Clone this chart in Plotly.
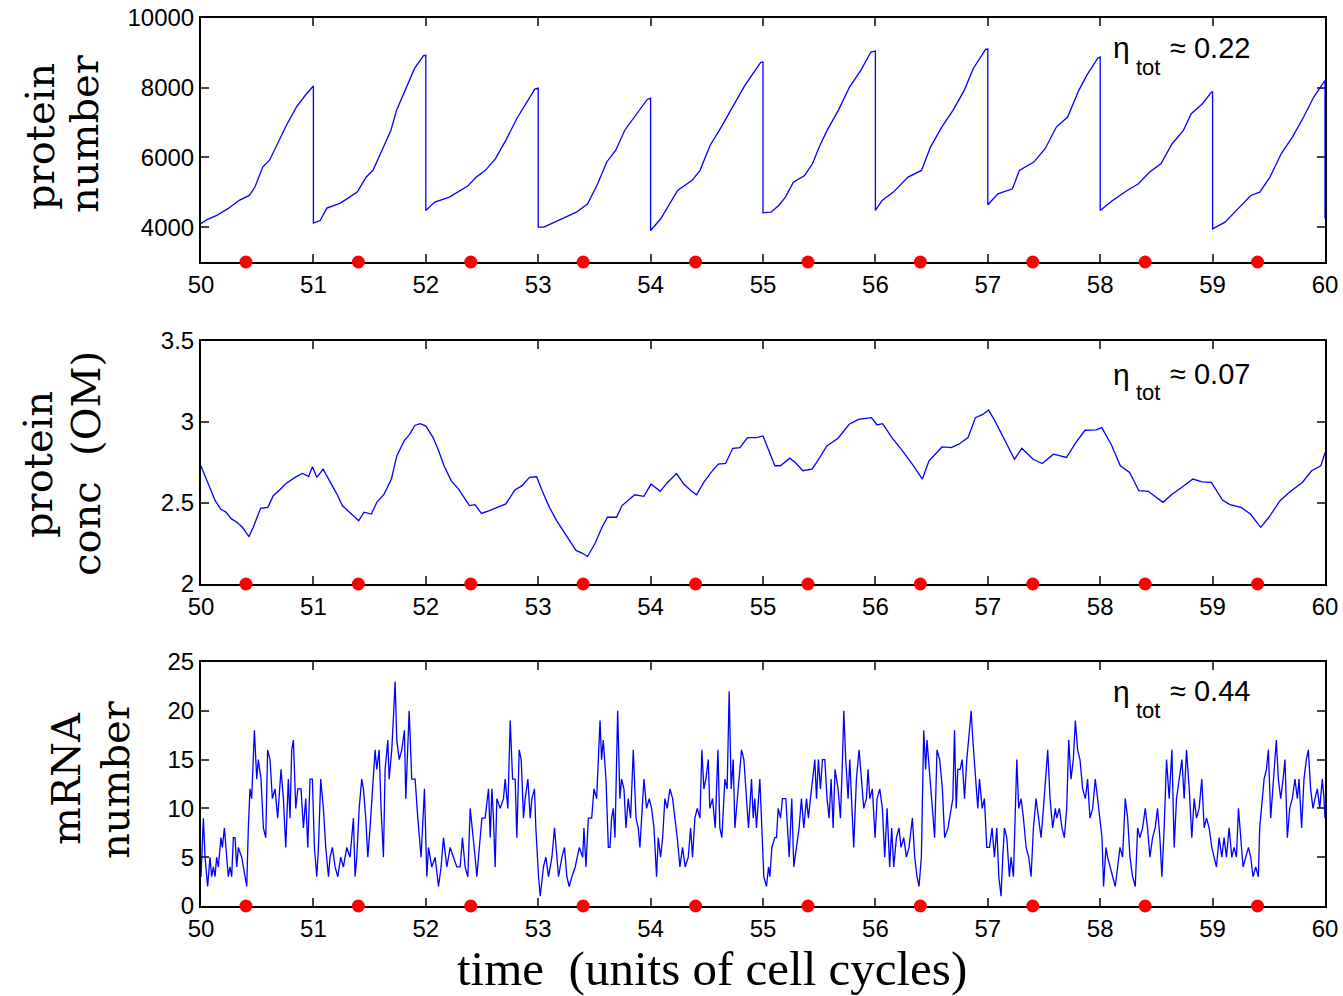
import plotly.graph_objects as go

# ---------------- data ----------------
ticks_x = [50, 51, 52, 53, 54, 55, 56, 57, 58, 59, 60]
dot_t = [50.4, 51.4, 52.4, 53.4, 54.4, 55.4, 56.4, 57.4, 58.4, 59.4]

prot_ticks = [4000, 6000, 8000, 10000]
conc_ticks = [2, 2.5, 3, 3.5]
mrna_ticks = [0, 5, 10, 15, 20, 25]

prot_t = [50.00, 50.05, 50.14, 50.24, 50.34, 50.43, 50.48, 50.55, 50.61, 50.69, 50.76, 50.85, 50.93, 51.00,
          51.00, 51.06, 51.12, 51.24, 51.39, 51.47, 51.53, 51.61, 51.69, 51.74, 51.82, 51.90, 51.98, 52.00,
          52.00, 52.08, 52.21, 52.37, 52.45, 52.53, 52.62, 52.72, 52.81, 52.91, 52.97, 53.00,
          53.00, 53.05, 53.18, 53.34, 53.44, 53.53, 53.61, 53.69, 53.77, 53.86, 53.97, 54.00,
          54.00, 54.09, 54.15, 54.24, 54.37, 54.44, 54.53, 54.63, 54.73, 54.84, 54.98, 55.00,
          55.00, 55.07, 55.14, 55.20, 55.27, 55.37, 55.44, 55.50, 55.57, 55.67, 55.77, 55.87, 55.96, 56.00,
          56.00, 56.06, 56.16, 56.29, 56.41, 56.49, 56.59, 56.69, 56.79, 56.87, 56.98, 57.00,
          57.00, 57.09, 57.22, 57.28, 57.41, 57.51, 57.61, 57.71, 57.81, 57.88, 57.98, 58.00,
          58.00, 58.11, 58.24, 58.34, 58.44, 58.54, 58.64, 58.74, 58.81, 58.91, 58.99, 59.00,
          59.00, 59.11, 59.24, 59.34, 59.42, 59.51, 59.61, 59.71, 59.81, 59.90, 59.99, 60.00, 60.00]
prot_n = [4100, 4210, 4335, 4530, 4770, 4910, 5150, 5730, 5920, 6445, 6925, 7450, 7790, 8050,
          4115, 4190, 4547, 4690, 5007, 5440, 5630, 6205, 6780, 7356, 7930, 8555, 8920, 8930,
          4480, 4720, 4863, 5170, 5440, 5630, 5966, 6540, 7117, 7644, 7960, 7990,
          4000, 4000, 4190, 4430, 4670, 5250, 5870, 6206, 6780, 7184, 7663, 7700,
          3904, 4240, 4575, 5055, 5343, 5630, 6350, 6877, 7452, 8076, 8728, 8740,
          4411, 4430, 4622, 4861, 5292, 5483, 5818, 6297, 6775, 7350, 8020, 8498, 9024, 9053,
          4478, 4766, 5005, 5435, 5627, 6297, 6871, 7350, 7924, 8546, 9101, 9110,
          4641, 4957, 5100, 5627, 5866, 6249, 6871, 7158, 7924, 8354, 8852, 8880,
          4478, 4766, 5053, 5244, 5579, 5818, 6393, 6775, 7254, 7541, 7876, 7880,
          3952, 4144, 4574, 4909, 5005, 5435, 6105, 6584, 7158, 7732, 8163, 8200, 4240]

conc_t = [50.000, 50.029, 50.078, 50.126, 50.175, 50.223, 50.271, 50.320, 50.368, 50.427,
          50.465, 50.530, 50.595, 50.643, 50.708, 50.756, 50.837, 50.902, 50.957, 50.992,
          51.031, 51.086, 51.144, 51.209, 51.257, 51.322, 51.403, 51.451, 51.516, 51.564,
          51.629, 51.694, 51.742, 51.807, 51.855, 51.904, 51.952, 52.001, 52.065, 52.114,
          52.162, 52.227, 52.292, 52.340, 52.388, 52.437, 52.495, 52.566, 52.631, 52.712,
          52.792, 52.857, 52.922, 52.986, 53.035, 53.100, 53.164, 53.229, 53.277, 53.336,
          53.390, 53.439, 53.504, 53.568, 53.617, 53.697, 53.746, 53.794, 53.859, 53.940,
          54.004, 54.085, 54.150, 54.231, 54.295, 54.360, 54.409, 54.473, 54.538, 54.602,
          54.667, 54.731, 54.796, 54.861, 54.942,
          55.000, 55.040, 55.106, 55.155, 55.238, 55.288, 55.354, 55.436, 55.486, 55.568,
          55.668, 55.767, 55.849, 55.965, 56.015, 56.064, 56.147, 56.229, 56.328, 56.418,
          56.477, 56.593, 56.675, 56.742, 56.824, 56.890, 56.956, 57.006, 57.056, 57.155,
          57.237, 57.303, 57.403, 57.485, 57.584, 57.700, 57.783, 57.865, 57.964, 58.014,
          58.097, 58.179, 58.262, 58.344, 58.427, 58.559, 58.642, 58.724, 58.824, 58.906,
          58.989, 59.088, 59.154, 59.253, 59.336, 59.428, 59.501, 59.600, 59.683, 59.798,
          59.881, 59.963, 60.000]
conc_v = [2.729, 2.678, 2.596, 2.514, 2.463, 2.443, 2.402, 2.381, 2.350, 2.293,
          2.350, 2.467, 2.473, 2.545, 2.586, 2.621, 2.658, 2.682, 2.664, 2.723,
          2.658, 2.709, 2.637, 2.555, 2.484, 2.443, 2.391, 2.443, 2.432, 2.504,
          2.555, 2.648, 2.791, 2.883, 2.924, 2.980, 2.990, 2.975, 2.904, 2.822,
          2.730, 2.637, 2.586, 2.535, 2.484, 2.490, 2.436, 2.453, 2.473, 2.494,
          2.580, 2.607, 2.658, 2.662, 2.576, 2.473, 2.391, 2.320, 2.268, 2.207,
          2.191, 2.170, 2.248, 2.350, 2.412, 2.412, 2.484, 2.514, 2.551, 2.541,
          2.617, 2.572, 2.627, 2.682, 2.617, 2.576, 2.551, 2.627, 2.689, 2.740,
          2.744, 2.838, 2.842, 2.904, 2.904,
          2.914, 2.842, 2.730, 2.730, 2.777, 2.750, 2.699, 2.709, 2.760, 2.852,
          2.900, 2.986, 3.016, 3.027, 2.982, 2.990, 2.904, 2.832, 2.740, 2.648,
          2.760, 2.846, 2.842, 2.863, 2.904, 3.027, 3.047, 3.074, 3.016, 2.883,
          2.770, 2.838, 2.770, 2.744, 2.801, 2.781, 2.873, 2.949, 2.951, 2.965,
          2.863, 2.730, 2.689, 2.576, 2.572, 2.504, 2.555, 2.596, 2.648, 2.631,
          2.627, 2.518, 2.490, 2.473, 2.432, 2.350, 2.412, 2.514, 2.566, 2.627,
          2.699, 2.730, 2.811]

mrna_t = [
    50.000, 50.021, 50.036, 50.059, 50.080, 50.095, 50.110, 50.125, 50.139, 50.154,
    50.178, 50.190, 50.208, 50.228, 50.243, 50.258, 50.273, 50.288, 50.303, 50.318,
    50.332, 50.362, 50.392, 50.407, 50.421, 50.436, 50.451, 50.475, 50.496, 50.510,
    50.534, 50.555, 50.576, 50.593, 50.614, 50.635, 50.659, 50.682, 50.712, 50.733,
    50.754, 50.777, 50.792, 50.807, 50.822, 50.843, 50.861, 50.890, 50.911, 50.932,
    50.950, 50.970, 50.991, 51.009, 51.030, 51.045, 51.065, 51.089, 51.110, 51.134,
    51.148, 51.169, 51.193, 51.217, 51.243, 51.267, 51.297, 51.326, 51.356, 51.371,
    51.386, 51.407, 51.430, 51.445, 51.466, 51.484, 51.504, 51.525, 51.549, 51.564,
    51.585, 51.602, 51.623, 51.638, 51.662, 51.674, 51.697, 51.715, 51.727, 51.742,
    51.763, 51.786, 51.810, 51.822, 51.852, 51.875, 51.905, 51.929, 51.958, 51.988,
    52.009, 52.024, 52.053, 52.083, 52.113, 52.136, 52.157, 52.187, 52.217, 52.246,
    52.276, 52.306, 52.326, 52.350, 52.374, 52.395, 52.415, 52.439, 52.454, 52.475,
    52.499, 52.528, 52.558, 52.573, 52.588, 52.602, 52.617, 52.632, 52.662, 52.691,
    52.706, 52.730, 52.751, 52.772, 52.795, 52.810, 52.831, 52.849, 52.869, 52.884,
    52.908, 52.929, 52.944, 52.967, 52.979, 53.003, 53.018, 53.047, 53.068, 53.092,
    53.122, 53.145, 53.166, 53.181, 53.211, 53.234, 53.255, 53.276, 53.300, 53.329,
    53.366, 53.396, 53.407, 53.425, 53.446, 53.476, 53.496, 53.520, 53.550, 53.564,
    53.579, 53.603, 53.624, 53.639, 53.653, 53.668, 53.683, 53.707, 53.727, 53.742,
    53.763, 53.781, 53.801, 53.822, 53.846, 53.870, 53.890, 53.905, 53.920, 53.941,
    53.964, 53.988, 54.009, 54.030, 54.053, 54.068, 54.089, 54.107, 54.127, 54.148,
    54.172, 54.196, 54.216, 54.237, 54.261, 54.284, 54.308, 54.335, 54.356, 54.373,
    54.394, 54.415, 54.439, 54.456, 54.474, 54.492, 54.513, 54.527, 54.551, 54.575,
    54.599, 54.616, 54.634, 54.661, 54.681, 54.699, 54.717, 54.735, 54.750, 54.770,
    54.788, 54.809, 54.830, 54.853, 54.871, 54.898, 54.913, 54.927, 54.942, 54.972,
    54.987, 55.007, 55.031, 55.049, 55.061, 55.079, 55.105, 55.120, 55.135, 55.156,
    55.173, 55.203, 55.233, 55.256, 55.274, 55.298, 55.321, 55.342, 55.363, 55.387,
    55.404, 55.422, 55.440, 55.461, 55.476, 55.493, 55.511, 55.529, 55.550, 55.570,
    55.588, 55.606, 55.624, 55.641, 55.668, 55.689, 55.707, 55.719, 55.736, 55.757,
    55.772, 55.796, 55.807, 55.831, 55.855, 55.876, 55.896, 55.920, 55.935, 55.950,
    55.973, 55.997, 56.015, 56.039, 56.062, 56.083, 56.104, 56.127, 56.145, 56.163,
    56.187, 56.210, 56.228, 56.252, 56.276, 56.299, 56.329, 56.350, 56.370, 56.388,
    56.409, 56.430, 56.447, 56.459, 56.483, 56.507, 56.527, 56.548, 56.572, 56.596,
    56.616, 56.646,
    56.689, 56.704, 56.719, 56.733, 56.754, 56.772, 56.793, 56.813, 56.837, 56.852,
    56.867, 56.890, 56.911, 56.926, 56.950, 56.970, 56.991, 57.015, 57.038, 57.059,
    57.080, 57.098, 57.118, 57.133, 57.148, 57.169, 57.192, 57.207, 57.228, 57.258,
    57.275, 57.296, 57.317, 57.341, 57.364, 57.385, 57.406, 57.429, 57.453, 57.474,
    57.495, 57.512, 57.533, 57.554, 57.577, 57.601, 57.613, 57.637, 57.660, 57.681,
    57.702, 57.720, 57.740, 57.761, 57.779, 57.799, 57.820, 57.844, 57.868, 57.888,
    57.909, 57.933, 57.956, 57.977, 57.998, 58.016, 58.030, 58.051, 58.066, 58.087,
    58.110, 58.134, 58.155, 58.176, 58.199, 58.223, 58.244, 58.265, 58.288, 58.312,
    58.333, 58.353, 58.377, 58.401, 58.421, 58.442, 58.466, 58.489, 58.510, 58.531,
    58.549, 58.569, 58.590, 58.614, 58.638, 58.658, 58.679, 58.703, 58.727, 58.747,
    58.768, 58.792, 58.815, 58.836, 58.857, 58.880, 58.904, 58.925, 58.946, 58.969,
    58.993, 59.013, 59.034, 59.058, 59.082, 59.102, 59.123, 59.147, 59.171, 59.191,
    59.212, 59.230, 59.251, 59.271, 59.295, 59.319, 59.339, 59.360, 59.384, 59.407,
    59.419, 59.437, 59.458, 59.479, 59.496, 59.517, 59.547, 59.567, 59.585, 59.606,
    59.627, 59.644, 59.665, 59.686, 59.709, 59.733, 59.754, 59.769, 59.792, 59.813,
    59.834, 59.852, 59.872, 59.893, 59.911, 59.932, 59.953, 59.976, 59.991, 60.000]
mrna_v = [
    3, 9, 5, 2, 5, 3, 4, 3, 5, 4,
    7, 6, 8, 5, 3, 4, 3, 7, 7, 4,
    6, 5, 3, 2, 8, 12, 11, 18, 13, 15,
    13, 8, 7, 16, 15, 11, 12, 9, 14, 11,
    6, 13, 9, 16, 17, 10, 12, 12, 8, 11,
    6, 13, 13, 6, 3, 6, 13, 10, 6, 3,
    5, 6, 4, 3, 5, 4, 6, 5, 9, 3,
    5, 10, 13, 12, 9, 5, 8, 12, 16, 14,
    16, 10, 5, 14, 17, 13, 16, 20, 23, 17,
    15, 16, 18, 11, 20, 13, 13, 9, 5, 12,
    3, 6, 4, 5, 2, 4, 7, 4, 6, 5,
    4, 4, 7, 4, 3, 10, 8, 5, 3, 6,
    9, 9, 12, 7, 12, 9, 4, 11, 10, 11,
    13, 10, 19, 13, 13, 7, 16, 15, 9, 11,
    13, 9, 11, 12, 8, 3, 1, 4, 5, 3,
    5, 8, 5, 3, 5, 6, 3, 2, 3, 4,
    6, 5, 8, 4, 9, 9, 12, 11, 19, 15,
    17, 13, 6, 6, 9, 10, 7, 20, 11, 13,
    12, 8, 11, 9, 16, 9, 8, 6, 9, 13,
    10, 11, 10, 8, 3, 7, 5, 7, 11, 10,
    12, 11, 9, 7, 4, 6, 4, 5, 8, 5,
    9, 10, 9, 16, 12, 13, 15, 10, 11, 8,
    16, 8, 7, 13, 12, 22, 12, 15, 8, 11,
    13, 16, 15, 11, 8, 13, 9, 11, 8, 13,
    9, 3, 2, 4, 3, 6, 7, 7, 10, 9,
    11, 11, 5, 11, 4, 6, 8, 11, 8, 11,
    9, 11, 13, 15, 11, 15, 12, 15, 15, 11,
    9, 13, 8, 14, 12, 9, 15, 20, 15, 11,
    15, 9, 6, 13, 16, 13, 10, 11, 14, 11,
    12, 7, 11, 12, 10, 5, 10, 4, 8, 4,
    7, 8, 6, 7, 5, 6, 9, 5, 3, 2,
    5, 18, 14, 17, 13, 10, 7, 16, 15, 12,
    7, 8,
    11, 18, 10, 14, 14, 15, 11, 15, 18, 20,
    17, 13, 10, 13, 10, 11, 6, 6, 8, 5,
    8, 3, 1, 5, 8, 7, 3, 5, 3, 15,
    10, 11, 9, 6, 5, 3, 8, 11, 9, 7,
    10, 13, 16, 11, 8, 10, 9, 10, 8, 7,
    10, 17, 13, 15, 19, 16, 15, 12, 11, 13,
    9, 10, 13, 11, 9, 7, 2, 6, 5, 4,
    3, 2, 4, 6, 5, 11, 9, 5, 3, 2,
    8, 7, 8, 10, 8, 5, 7, 8, 10, 7,
    3, 8, 15, 11, 16, 6, 11, 13, 15, 11,
    16, 12, 7, 11, 9, 10, 13, 8, 9, 8,
    6, 5, 4, 7, 5, 7, 5, 8, 5, 6,
    5, 10, 7, 4, 5, 6, 5, 3, 4, 3,
    8, 10, 13, 14, 16, 9, 14, 17, 13, 11,
    13, 15, 7, 10, 11, 13, 11, 13, 8, 13,
    15, 16, 12, 10, 11, 12, 10, 13, 11, 9]

eta_labels = ["0.22", "0.07", "0.44"]

# ---------------- layout helpers (pixel -> paper) ----------------
W, H = 1343, 996
ML, MR, MT, MB = 201, 18, 18, 90
PW, PH = W - ML - MR, H - MT - MB


def fx(px):
    return (px - ML) / PW


def fy(py):
    return (H - MB - py) / PH


BLUE = "#0000FF"
RED = "#FF0000"
TICKFONT = dict(family="Liberation Sans, Arial, sans-serif", size=24, color="black")

fig = go.Figure()

panels = [
    (prot_t, prot_n, "x", "y", 3000),
    (conc_t, conc_v, "x2", "y2", 2),
    (mrna_t, mrna_v, "x3", "y3", 0),
]
for tx, vy, xa, ya, base in panels:
    fig.add_trace(go.Scatter(x=tx, y=vy, mode="lines", xaxis=xa, yaxis=ya,
                             line=dict(color=BLUE, width=1.3), showlegend=False,
                             hoverinfo="skip"))
    fig.add_trace(go.Scatter(x=dot_t, y=[base] * len(dot_t), mode="markers",
                             xaxis=xa, yaxis=ya, cliponaxis=False,
                             marker=dict(color=RED, size=13, line=dict(width=0)),
                             showlegend=False, hoverinfo="skip"))

xcommon = dict(range=[50, 60], tickmode="array", tickvals=ticks_x,
               ticktext=[str(v) for v in ticks_x], ticks="inside", ticklen=8,
               tickwidth=1.5, tickcolor="#444", showline=True, linecolor="black",
               linewidth=2, mirror="ticks", showgrid=False, zeroline=False,
               tickfont=TICKFONT, layer="below traces", automargin=False)
ycommon = dict(ticks="inside", ticklen=8, tickwidth=1.5, tickcolor="#444",
               showline=True, linecolor="black", linewidth=2, mirror="ticks",
               showgrid=False, zeroline=False, tickfont=TICKFONT,
               layer="below traces", automargin=False, tickmode="array")

doms = [(fy(262), fy(18)), (fy(584), fy(341)), (fy(906), fy(662))]

fig.update_layout(
    width=W, height=H, autosize=False,
    margin=dict(l=ML, r=MR, t=MT, b=MB, autoexpand=False),
    paper_bgcolor="white", plot_bgcolor="white",
    xaxis=dict(domain=[0, 1], anchor="y", **xcommon),
    xaxis2=dict(domain=[0, 1], anchor="y2", **xcommon),
    xaxis3=dict(domain=[0, 1], anchor="y3", **xcommon),
    yaxis=dict(domain=list(doms[0]), anchor="x", range=[3000, 10000],
               tickvals=prot_ticks, ticktext=[str(v) for v in prot_ticks], **ycommon),
    yaxis2=dict(domain=list(doms[1]), anchor="x2", range=[2, 3.5],
                tickvals=conc_ticks, ticktext=["%g" % v for v in conc_ticks], **ycommon),
    yaxis3=dict(domain=list(doms[2]), anchor="x3", range=[0, 25],
                tickvals=mrna_ticks, ticktext=[str(v) for v in mrna_ticks], **ycommon),
)

SERIF_Y = dict(family="DejaVu Serif, serif", size=40, color="black")
ylabels = [
    ("protein", 40, 137), ("number", 84, 134),
    ("protein", 38, 465), ("conc\u00a0\u00a0(OM)", 86, 464),
    ("mRNA", 66, 779), ("number", 115, 780),
]
annotations = []
for txt, px, py in ylabels:
    annotations.append(dict(text=txt, x=fx(px), y=fy(py), xref="paper", yref="paper",
                            xanchor="center", yanchor="middle", textangle=-90,
                            showarrow=False, font=SERIF_Y))

annotations.append(dict(text="time\u00a0\u00a0(units of cell cycles)", x=fx(712), y=fy(968),
                        xref="paper", yref="paper", xanchor="center", yanchor="middle",
                        showarrow=False,
                        font=dict(family="Liberation Serif, Times New Roman, serif",
                                  size=49, color="black")))

SANS = "Liberation Sans, Arial, sans-serif"
for lab, py in zip(eta_labels, [48, 374, 691]):
    annotations.append(dict(text="\u03b7", x=fx(1111), y=fy(py),
                            xref="paper", yref="paper", xanchor="left", yanchor="middle",
                            showarrow=False, font=dict(family=SANS, size=30, color="black")))
    annotations.append(dict(text="tot", x=fx(1134), y=fy(py + 19),
                            xref="paper", yref="paper", xanchor="left", yanchor="middle",
                            showarrow=False, font=dict(family=SANS, size=22, color="black")))
    annotations.append(dict(text="\u2248 " + lab, x=fx(1168), y=fy(py),
                            xref="paper", yref="paper", xanchor="left", yanchor="middle",
                            showarrow=False, font=dict(family=SANS, size=29, color="black")))

fig.update_layout(annotations=annotations)
fig.write_html("out.html", config={"displayModeBar": False},
               post_script="document.body.style.margin='0';"
                           "document.body.style.overflow='hidden';")
